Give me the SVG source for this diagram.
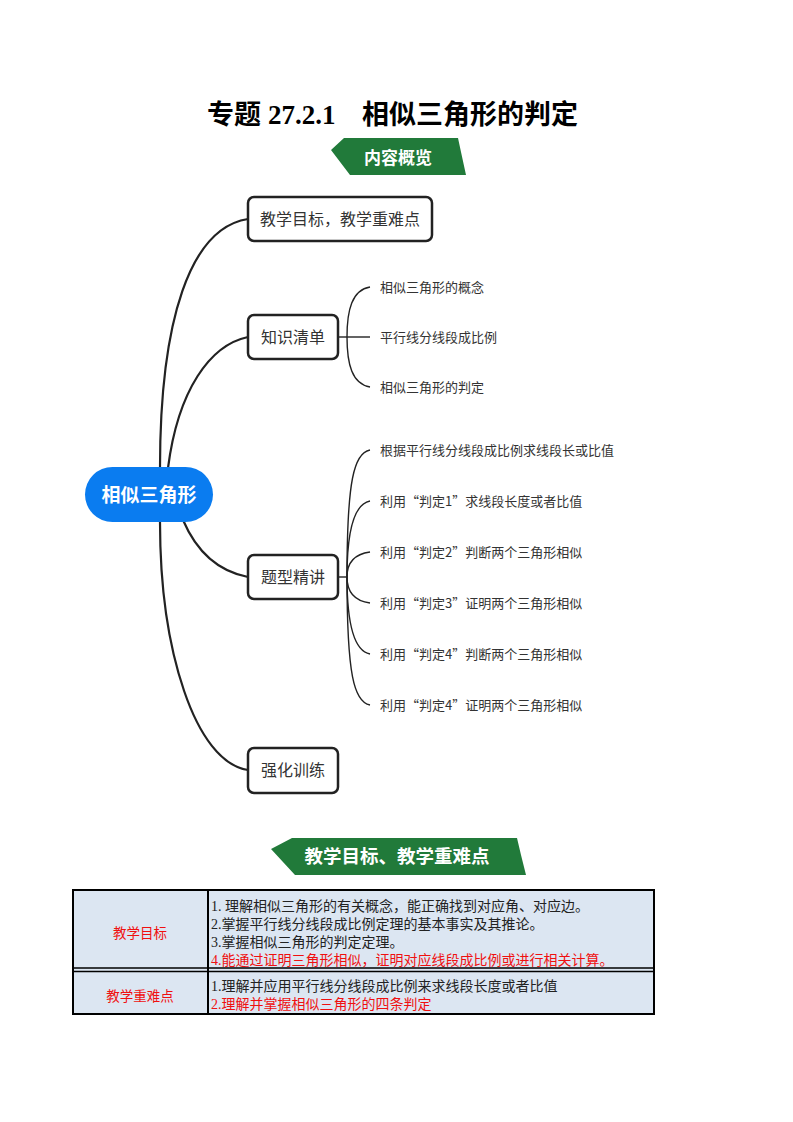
<svg xmlns="http://www.w3.org/2000/svg" width="793" height="1122" viewBox="0 0 793 1122">
<style>
.cjk{font-family:"Noto Sans CJK SC","Noto Sans",sans-serif}
.ser{font-family:"Liberation Serif","Noto Sans CJK SC",serif}
.node{fill:#fff;stroke:#222;stroke-width:2.5}
.ntxt{font-size:16px;fill:#333}
.sub{font-size:13px;fill:#333}
.conn{fill:none;stroke:#222;stroke-width:2.2}
.thin{fill:none;stroke:#222;stroke-width:1.4}
.banner{fill:#217a3a}
.btxt{fill:#fff;font-weight:bold;text-anchor:middle}
.cell{fill:#dce6f2}
.tl{font-size:14px;fill:#222}
.red{fill:#f01010}
</style>
<rect width="793" height="1122" fill="#fff"/>
<text y="124" font-size="27" font-weight="bold" fill="#000"><tspan x="207" class="cjk">专题</tspan><tspan x="268" class="ser">27.2.1</tspan><tspan x="362" class="cjk">相似三角形的判定</tspan></text>

<g id="banner1">
<polygon class="banner" points="344,138 458,138 461,152 466,175 350,175 331,150"/>
<text x="398" y="164" font-size="17" class="cjk btxt">内容概览</text>
</g>

<g id="connectors">
<path class="conn" d="M160,468 C160,320 190,228 248,219"/>
<path class="conn" d="M168,468 C178,390 210,345 248,337"/>
<path class="conn" d="M183,520 C198,555 222,572 248,577"/>
<path class="conn" d="M160,522 C160,650 195,762 248,770"/>
<path class="thin" d="M338,337 H370"/>
<path class="thin" d="M370,287 C352,290 347,310 347,337 C347,364 352,384 370,387"/>
<path class="thin" d="M338,577 H347"/>
<path class="thin" d="M370,450 C354,453 347,480 347,577"/>
<path class="thin" d="M370,501 C354,504 347,530 347,577"/>
<path class="thin" d="M370,552 C355,554 347,562 347,577"/>
<path class="thin" d="M370,603 C355,601 347,592 347,577"/>
<path class="thin" d="M370,654 C354,651 347,625 347,577"/>
<path class="thin" d="M370,705 C354,702 347,675 347,577"/>
</g>

<g id="center">
<rect x="85" y="467" width="128" height="55" rx="27.5" fill="#0a7cf0"/>
<text x="149" y="502" text-anchor="middle" font-size="19" font-weight="bold" fill="#fff" class="cjk">相似三角形</text>
</g>
<g id="n1">
<rect class="node" x="248" y="197" width="184" height="44" rx="6"/>
<text x="340" y="225" text-anchor="middle" class="cjk ntxt">教学目标，教学重难点</text>
</g>
<g id="n2">
<rect class="node" x="248" y="315" width="90" height="44" rx="6"/>
<text x="293" y="343" text-anchor="middle" class="cjk ntxt">知识清单</text>
</g>
<g id="n3">
<rect class="node" x="248" y="555" width="90" height="44" rx="6"/>
<text x="293" y="583" text-anchor="middle" class="cjk ntxt">题型精讲</text>
</g>
<g id="n4">
<rect class="node" x="248" y="748" width="90" height="45" rx="6"/>
<text x="293" y="776" text-anchor="middle" class="cjk ntxt">强化训练</text>
</g>

<g id="sub-zs">
<text x="380" y="292" class="cjk sub">相似三角形的概念</text>
<text x="380" y="342" class="cjk sub">平行线分线段成比例</text>
<text x="380" y="392" class="cjk sub">相似三角形的判定</text>
</g>
<g id="sub-tx">
<text x="380" y="455" class="cjk sub">根据平行线分线段成比例求线段长或比值</text>
<text x="380" y="506" class="cjk sub">利用“判定1”求线段长度或者比值</text>
<text x="380" y="557" class="cjk sub">利用“判定2”判断两个三角形相似</text>
<text x="380" y="608" class="cjk sub">利用“判定3”证明两个三角形相似</text>
<text x="380" y="659" class="cjk sub">利用“判定4”判断两个三角形相似</text>
<text x="380" y="710" class="cjk sub">利用“判定4”证明两个三角形相似</text>
</g>

<g id="banner2">
<polygon class="banner" points="292,838 517,838 521,855 526,875 295,875 271,849"/>
<text x="397" y="863" font-size="18.5" class="cjk btxt">教学目标、教学重难点</text>
</g>

<g id="table">
<rect class="cell" x="73" y="890" width="581" height="124"/>
<rect x="73" y="890" width="581" height="124" fill="none" stroke="#000" stroke-width="2"/>
<line x1="208" y1="890" x2="208" y2="1014" stroke="#000" stroke-width="2"/>
<line x1="73" y1="968" x2="654" y2="968" stroke="#000" stroke-width="1.5"/>
<line x1="73" y1="971.5" x2="654" y2="971.5" stroke="#000" stroke-width="1.5"/>
<text x="140" y="938" text-anchor="middle" font-size="13.5" class="cjk red">教学目标</text>
<text x="140" y="1001" text-anchor="middle" font-size="13.5" class="cjk red">教学重难点</text>
<text x="211" y="911" class="ser tl">1. 理解相似三角形的有关概念，能正确找到对应角、对应边。</text>
<text x="211" y="929" class="ser tl">2.掌握平行线分线段成比例定理的基本事实及其推论。</text>
<text x="211" y="947" class="ser tl">3.掌握相似三角形的判定定理。</text>
<text x="211" y="965" class="ser tl red">4.能通过证明三角形相似，证明对应线段成比例或进行相关计算。</text>
<text x="211" y="991" class="ser tl">1.理解并应用平行线分线段成比例来求线段长度或者比值</text>
<text x="211" y="1009" class="ser tl red">2.理解并掌握相似三角形的四条判定</text>
</g>
</svg>
